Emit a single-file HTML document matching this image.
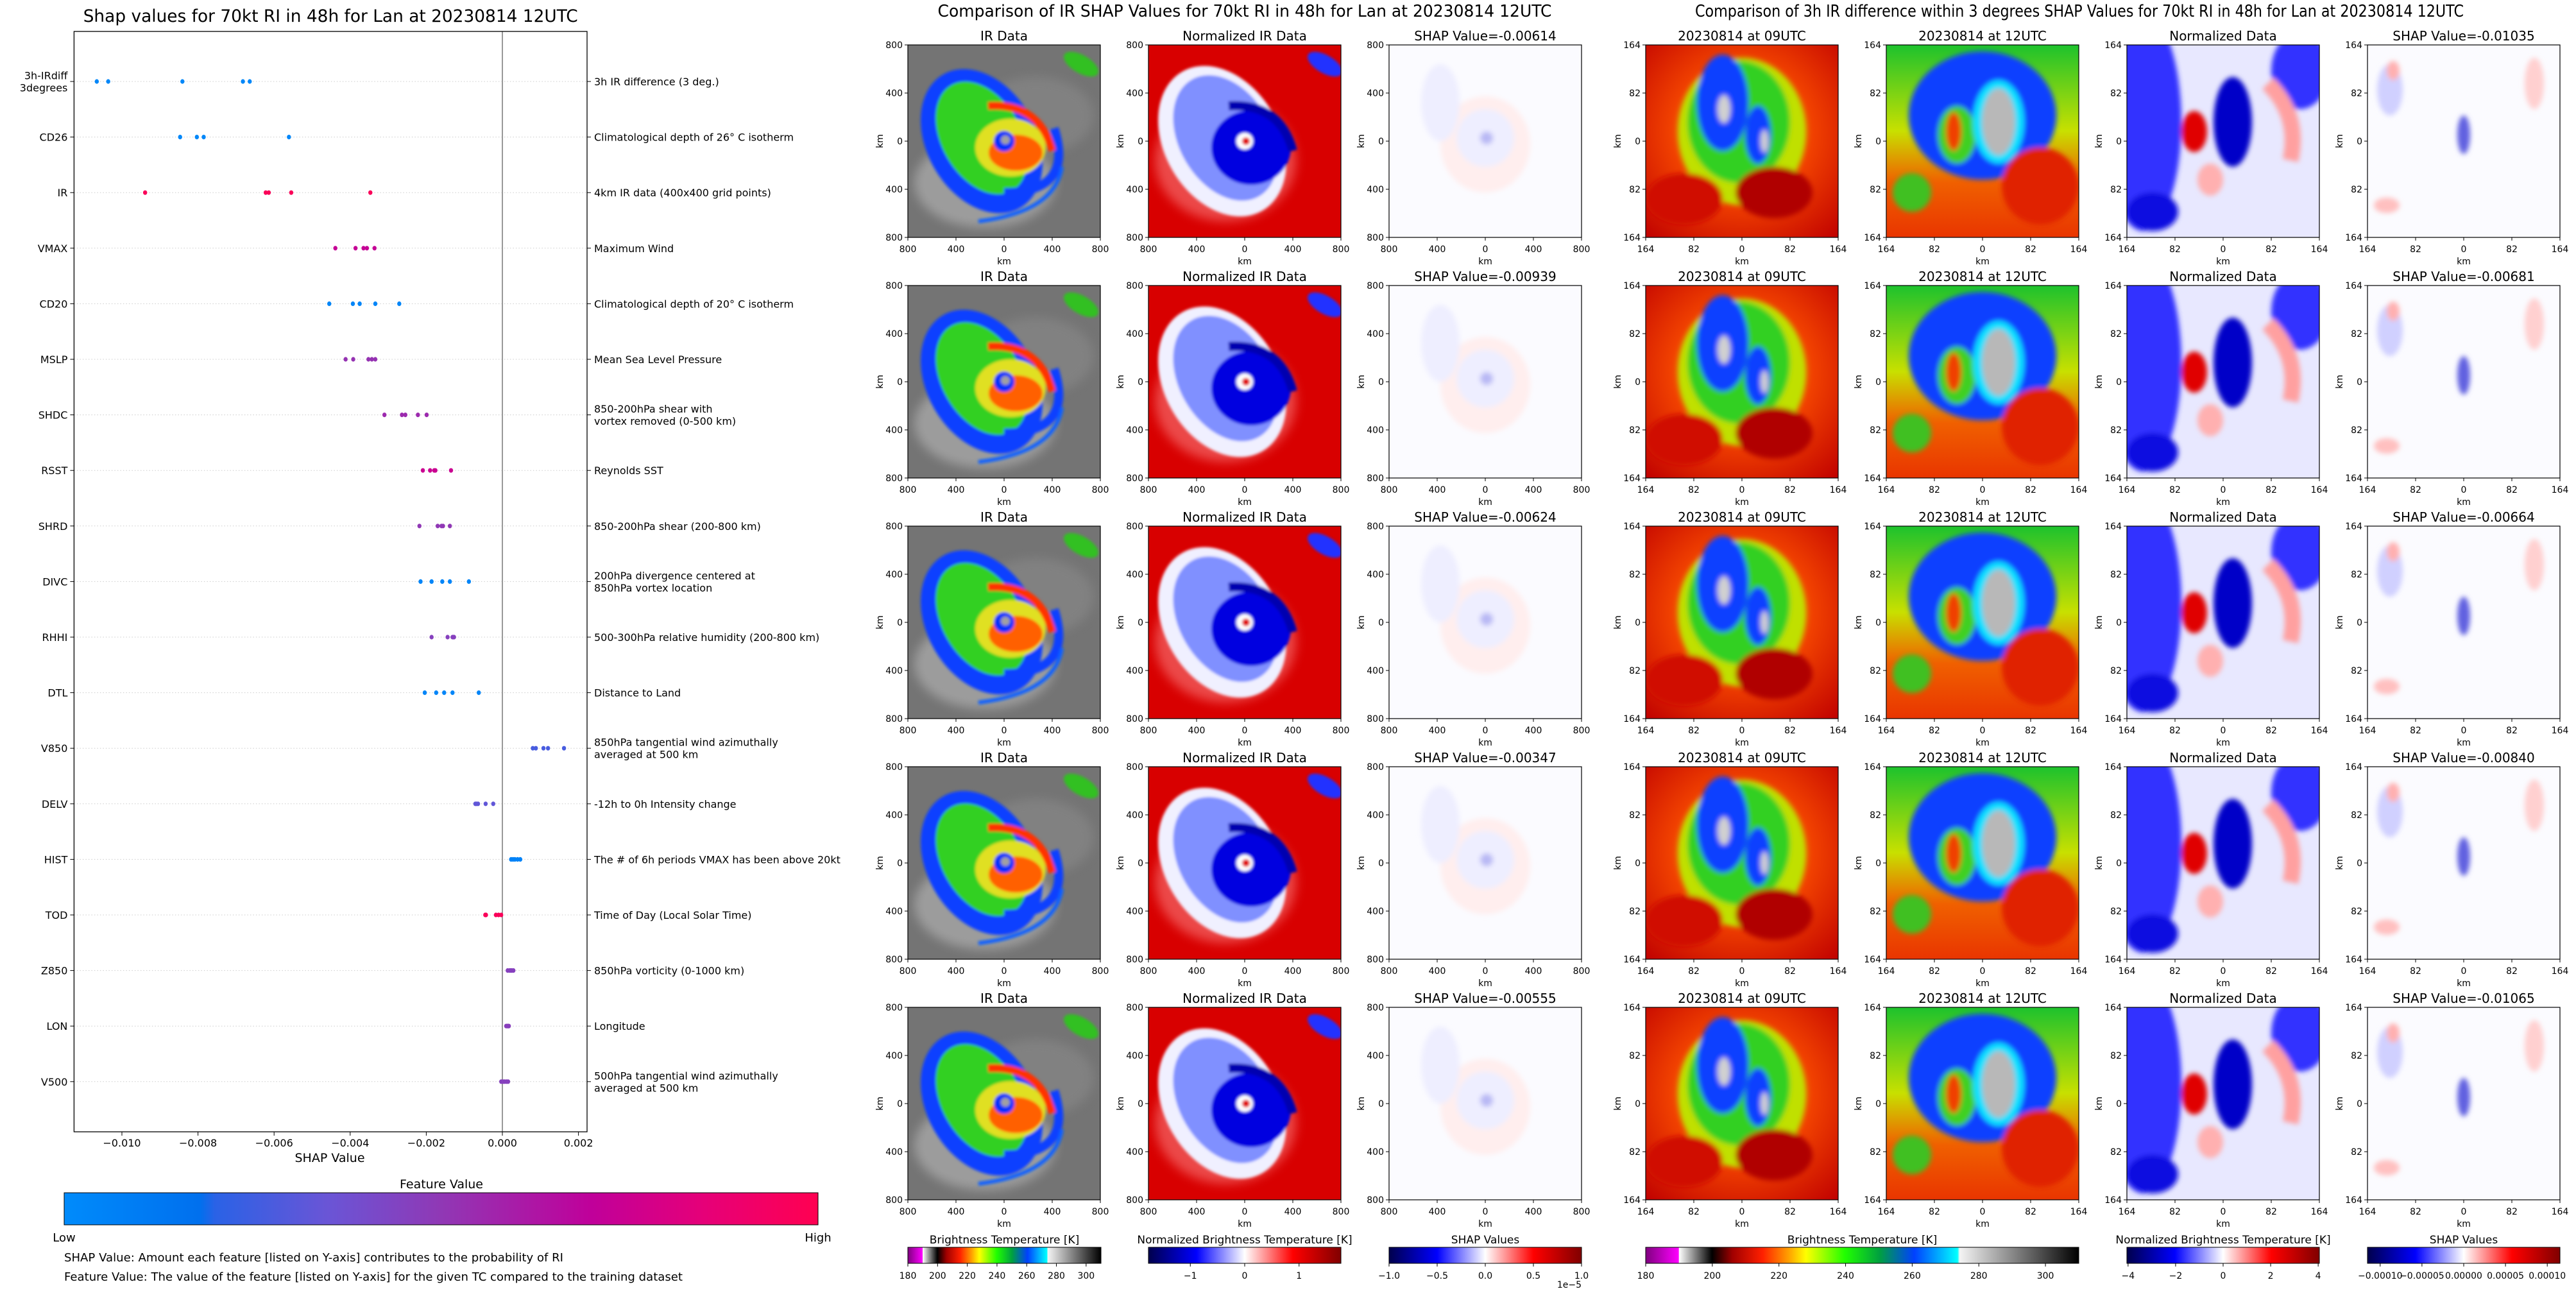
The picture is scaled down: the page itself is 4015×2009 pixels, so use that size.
<!DOCTYPE html>
<html><head><meta charset="utf-8">
<style>
html,body{margin:0;padding:0;background:#fff;}
svg{display:block;font-family:"DejaVu Sans","Liberation Sans",sans-serif;}
</style></head>
<body>
<svg id="root" width="4015" height="2009" viewBox="0 0 4015 2009" xmlns="http://www.w3.org/2000/svg">
<defs>
  <filter id="blur4" x="-20%" y="-20%" width="140%" height="140%"><feGaussianBlur stdDeviation="4"/></filter>
  <filter id="blur8" x="-20%" y="-20%" width="140%" height="140%"><feGaussianBlur stdDeviation="8"/></filter>
  <filter id="blur2" x="-20%" y="-20%" width="140%" height="140%"><feGaussianBlur stdDeviation="2"/></filter>
  <clipPath id="pclip"><rect x="0" y="0" width="300" height="300"/></clipPath>
  <linearGradient id="featGrad" x1="0" x2="1" y1="0" y2="0">
    <stop offset="0" stop-color="#008bfb"/><stop offset="0.18" stop-color="#0070ee"/>
    <stop offset="0.2" stop-color="#2a62e6"/><stop offset="0.35" stop-color="#6a55d6"/>
    <stop offset="0.5" stop-color="#9038b5"/><stop offset="0.7" stop-color="#c0009a"/>
    <stop offset="0.85" stop-color="#e60078"/><stop offset="1" stop-color="#ff0051"/>
  </linearGradient>
  <linearGradient id="btGrad" x1="0" x2="1" y1="0" y2="0">
    <stop offset="0" stop-color="#800080"/><stop offset="0.076" stop-color="#ff00ff"/>
    <stop offset="0.077" stop-color="#ffffff"/><stop offset="0.153" stop-color="#000000"/>
    <stop offset="0.2" stop-color="#a00000"/><stop offset="0.27" stop-color="#ff2000"/>
    <stop offset="0.33" stop-color="#ffa000"/><stop offset="0.37" stop-color="#ffff00"/>
    <stop offset="0.46" stop-color="#20ff00"/><stop offset="0.54" stop-color="#00a040"/>
    <stop offset="0.62" stop-color="#0040ff"/><stop offset="0.72" stop-color="#00ffff"/>
    <stop offset="0.725" stop-color="#f4f4f4"/><stop offset="1" stop-color="#000000"/>
  </linearGradient>
  <linearGradient id="seisGrad" x1="0" x2="1" y1="0" y2="0">
    <stop offset="0" stop-color="#00004c"/><stop offset="0.25" stop-color="#0000ff"/>
    <stop offset="0.5" stop-color="#ffffff"/><stop offset="0.75" stop-color="#ff0000"/>
    <stop offset="1" stop-color="#800000"/>
  </linearGradient>
  <linearGradient id="g12" x1="0" x2="0" y1="0" y2="1">
    <stop offset="0" stop-color="#10c030"/><stop offset="0.45" stop-color="#c8e000"/>
    <stop offset="0.7" stop-color="#f06000"/><stop offset="1" stop-color="#e83000"/>
  </linearGradient>
  <radialGradient id="g09" cx="0.5" cy="0.45" r="0.7">
    <stop offset="0" stop-color="#ffd000"/><stop offset="0.5" stop-color="#f04000"/>
    <stop offset="1" stop-color="#c00000"/>
  </radialGradient>
</defs>
<g id="left"></g>
<g id="right"></g>
</svg>
<script>
// ===== Left chart data =====
const features = ["3h-IRdiff\n3degrees","CD26","IR","VMAX","CD20","MSLP","SHDC","RSST","SHRD","DIVC","RHHI","DTL","V850","DELV","HIST","TOD","Z850","LON","V500"];
const descriptions = ["3h IR difference (3 deg.)","Climatological depth of 26° C isotherm","4km IR data (400x400 grid points)","Maximum Wind","Climatological depth of 20° C isotherm","Mean Sea Level Pressure","850-200hPa shear with\nvortex removed (0-500 km)","Reynolds SST","850-200hPa shear (200-800 km)","200hPa divergence centered at\n850hPa vortex location","500-300hPa relative humidity (200-800 km)","Distance to Land","850hPa tangential wind azimuthally\naveraged at 500 km","-12h to 0h Intensity change","The # of 6h periods VMAX has been above 20kt","Time of Day (Local Solar Time)","850hPa vorticity (0-1000 km)","Longitude","500hPa tangential wind azimuthally\naveraged at 500 km"];
const shapValues = [
  [-0.01066,-0.01036,-0.00841,-0.00682,-0.00664],
  [-0.00847,-0.00803,-0.00785,-0.00561],
  [-0.00939,-0.00622,-0.00614,-0.00555,-0.00347],
  [-0.00439,-0.00386,-0.00365,-0.00356,-0.00336],
  [-0.00455,-0.00393,-0.00375,-0.00334,-0.00271],
  [-0.00412,-0.00392,-0.00352,-0.00343,-0.00334],
  [-0.00310,-0.00264,-0.00255,-0.00222,-0.00199],
  [-0.00209,-0.00190,-0.00179,-0.00176,-0.00135],
  [-0.00218,-0.00170,-0.00160,-0.00156,-0.00138],
  [-0.00215,-0.00186,-0.00158,-0.00138,-0.00088],
  [-0.00186,-0.00144,-0.00131,-0.00128,-0.00127],
  [-0.00204,-0.00174,-0.00153,-0.00131,-0.00062],
  [0.00080,0.00088,0.00108,0.00120,0.00162],
  [-0.00071,-0.00068,-0.00064,-0.00044,-0.00024],
  [0.00023,0.00028,0.00033,0.00040,0.00047],
  [-0.00045,-0.00043,-0.00017,-0.00010,-0.00003],
  [0.00014,0.00019,0.00022,0.00025,0.00029],
  [0.00010,0.00012,0.00014,0.00016,0.00017],
  [-0.00003,0.00002,0.00006,0.00011,0.00015]
];
const featureValues = [0.03,0.03,0.97,0.72,0.04,0.52,0.55,0.74,0.5,0.04,0.46,0.04,0.27,0.33,0.06,0.97,0.46,0.47,0.46];
const xTicks = [-0.010,-0.008,-0.006,-0.004,-0.002,0.000,0.002];
const xTickLabels = ["\u22120.010","\u22120.008","\u22120.006","\u22120.004","\u22120.002","0.000","0.002"];

const NS = "http://www.w3.org/2000/svg";
function mk(tag, attrs, parent, text){
  const e = document.createElementNS(NS, tag);
  for (const k in attrs) e.setAttribute(k, attrs[k]);
  if (text !== undefined) e.textContent = text;
  if (parent) parent.appendChild(e);
  return e;
}
const L = document.getElementById('left');
const AX_L = 115.4, AX_R = 915, AX_T = 49, AX_B = 1764;
function xScale(v){ return 783 + v * 59300; }
function yScale(i){ return 127 + i * 86.6; }
function featColor(t){
  const stops=[[0,[0,139,251]],[0.18,[0,112,238]],[0.2,[42,98,230]],[0.35,[106,85,214]],[0.5,[144,56,181]],[0.7,[192,0,154]],[0.85,[230,0,120]],[1,[255,0,81]]];
  for(let i=1;i<stops.length;i++){ if(t<=stops[i][0]){ const a=stops[i-1],b=stops[i]; const f=(t-a[0])/(b[0]-a[0]); const c=a[1].map((v,j)=>Math.round(v+(b[1][j]-v)*f)); return `rgb(${c[0]},${c[1]},${c[2]})`; } }
  return 'rgb(255,0,81)';
}
let t = mk('text',{x:(AX_L+AX_R)/2,y:34,'text-anchor':'middle','font-size':27,textLength:771,lengthAdjust:'spacingAndGlyphs'},L,"Shap values for 70kt RI in 48h for Lan at 20230814 12UTC");


features.forEach((f,i)=>{
  const y = yScale(i);
  const g = mk('line',{x1:AX_L,x2:AX_R,y1:y,y2:y,stroke:'#cccccc','stroke-width':1,'stroke-dasharray':'1.5,3'},L);
  
  
  mk('line',{x1:AX_L-6,x2:AX_L,y1:y,y2:y,stroke:'#000','stroke-width':1},L);
  mk('line',{x1:AX_R,x2:AX_R+6,y1:y,y2:y,stroke:'#000','stroke-width':1},L);
  const lines = f.split("\n");
  const lbl = mk('text',{x:AX_L-10,'text-anchor':'end','font-size':16,fill:'#000'},L);
  
  
  lines.forEach((ln,k)=>{ mk('tspan',{x:AX_L-10,y:y+6+(k-(lines.length-1)/2)*19},lbl,ln); });
  const dl = descriptions[i].split("\n");
  const dsc = mk('text',{x:AX_R+11,'text-anchor':'start','font-size':16,fill:'#000'},L);
  
  
  dl.forEach((ln,k)=>{ mk('tspan',{x:AX_R+11,y:y+6+(k-(dl.length-1)/2)*19},dsc,ln); });
});
let z = mk('line',{x1:xScale(0),x2:xScale(0),y1:AX_T,y2:AX_B,stroke:'#999','stroke-width':2},L);


shapValues.forEach((vals,i)=>{
  vals.forEach(v=>{
    const c = mk('ellipse',{cx:xScale(v),cy:yScale(i),rx:3.2,ry:3.6,fill:featColor(featureValues[i])},L);
    
    
  });
});
let fr = mk('rect',{x:AX_L,y:AX_T,width:AX_R-AX_L,height:AX_B-AX_T,fill:'none',stroke:'#000','stroke-width':1.3},L);


xTicks.forEach((v,k)=>{
  mk('line',{x1:xScale(v),x2:xScale(v),y1:AX_B,y2:AX_B+6,stroke:'#000','stroke-width':1},L);
  const tl = mk('text',{x:xScale(v),y:AX_B+23,'text-anchor':'middle','font-size':16},L,xTickLabels[k]);
  
  
});
t = mk('text',{x:514,y:1811,'text-anchor':'middle','font-size':19},L,"SHAP Value");


t = mk('text',{x:688,y:1852,'text-anchor':'middle','font-size':19},L,"Feature Value");


t = mk('rect',{x:100,y:1859,width:1175,height:50,fill:'url(#featGrad)',stroke:'#000','stroke-width':1},L);


t = mk('text',{x:100,y:1935,'text-anchor':'middle','font-size':18},L,"Low");


t = mk('text',{x:1275,y:1935,'text-anchor':'middle','font-size':18},L,"High");


t = mk('text',{x:100,y:1966,'font-size':18,textLength:778,lengthAdjust:'spacingAndGlyphs'},L,"SHAP Value: Amount each feature [listed on Y-axis] contributes to the probability of RI");


t = mk('text',{x:100,y:1996,'font-size':18,textLength:964,lengthAdjust:'spacingAndGlyphs'},L,"Feature Value: The value of the feature [listed on Y-axis] for the given TC compared to the training dataset");



// ===== Right side panels =====
const R = document.getElementById('right');
const group1X = [1415,1790,2165];
const group2X = [2565,2940,3315,3690];
const rowTops = [70,445,820,1195,1570];
const shap1 = ["-0.00614","-0.00939","-0.00624","-0.00347","-0.00555"];
const shap2 = ["-0.01035","-0.00681","-0.00664","-0.00840","-0.01065"];

t = mk('text',{x:1940,y:26,'text-anchor':'middle','font-size':26,textLength:957,lengthAdjust:'spacingAndGlyphs'},R,"Comparison of IR SHAP Values for 70kt RI in 48h for Lan at 20230814 12UTC");


t = mk('text',{x:3241,y:26,'text-anchor':'middle','font-size':26,textLength:1198,lengthAdjust:'spacingAndGlyphs'},R,"Comparison of 3h IR difference within 3 degrees SHAP Values for 70kt RI in 48h for Lan at 20230814 12UTC");



function drawImage(g, kind){
  const c = mk('g',{'clip-path':'url(#pclip)'},g);
  const b = document.createElementNS(NS,'g');
  b.setAttribute('filter','url(#blur4)');
  if(kind==='ir'){
    mk('rect',{x:-10,y:-10,width:320,height:320,fill:'#747474'},c);
    mk('ellipse',{cx:120,cy:215,rx:110,ry:70,fill:'#b8b8b8',opacity:0.6,filter:'url(#blur8)'},c);
    mk('ellipse',{cx:200,cy:110,rx:90,ry:60,fill:'#8a8a8a',opacity:0.6,filter:'url(#blur8)'},c);
    const b2 = mk('g',{filter:'url(#blur2)'},c);
    mk('ellipse',{cx:115,cy:150,rx:85,ry:120,transform:'rotate(-30 115 150)',fill:'#1040ff'},b2);
    mk('ellipse',{cx:115,cy:145,rx:62,ry:95,transform:'rotate(-30 115 145)',fill:'#30d020'},b2);
    mk('path',{d:'M150,230 Q260,230 228,130',stroke:'#1040ff','stroke-width':14,fill:'none'},b2);
    mk('path',{d:'M110,275 Q230,260 240,190',stroke:'#1060ff','stroke-width':6,fill:'none'},b2);
    mk('ellipse',{cx:160,cy:160,rx:55,ry:45,fill:'#e0e020'},b2);
    mk('ellipse',{cx:168,cy:168,rx:42,ry:28,fill:'#ff6000'},b2);
    mk('path',{d:'M125,95 Q205,90 225,165',stroke:'#ff3000','stroke-width':12,fill:'none'},b2);
    mk('circle',{cx:150,cy:150,r:16,fill:'#0030ff'},b2);
    mk('circle',{cx:152,cy:148,r:7,fill:'#a0a0a0'},b2);
    mk('ellipse',{cx:270,cy:30,rx:30,ry:14,transform:'rotate(30 270 30)',fill:'#30c020'},b2);
  } else if(kind==='nir'){
    mk('rect',{x:-10,y:-10,width:320,height:320,fill:'#d80000'},c);
    mk('ellipse',{cx:120,cy:180,rx:110,ry:95,fill:'#ff9090',opacity:0.5,filter:'url(#blur8)'},c);
    const b2 = mk('g',{filter:'url(#blur2)'},c);
    mk('ellipse',{cx:115,cy:150,rx:90,ry:125,transform:'rotate(-30 115 150)',fill:'#f0f0ff'},b2);
    mk('ellipse',{cx:120,cy:145,rx:72,ry:105,transform:'rotate(-30 120 145)',fill:'#8090ff'},b2);
    mk('ellipse',{cx:160,cy:160,rx:62,ry:58,fill:'#0000e0'},b2);
    mk('path',{d:'M125,95 Q205,90 225,165',stroke:'#0000b0','stroke-width':14,fill:'none'},b2);
    mk('circle',{cx:150,cy:150,r:13,fill:'#ffffff'},b2);
    mk('circle',{cx:152,cy:150,r:6,fill:'#e00000'},b2);
    mk('ellipse',{cx:275,cy:30,rx:30,ry:14,transform:'rotate(30 275 30)',fill:'#2030ff'},b2);
  } else if(kind==='s1'){
    mk('rect',{x:-10,y:-10,width:320,height:320,fill:'#fbfbff'},c);
    c.appendChild(b);
    mk('ellipse',{cx:150,cy:155,rx:70,ry:75,fill:'#ffeeee'},b);
    mk('ellipse',{cx:150,cy:145,rx:45,ry:45,fill:'#eeeeff'},b);
    mk('ellipse',{cx:80,cy:90,rx:30,ry:60,fill:'#eeeeff'},b);
    mk('circle',{cx:152,cy:145,r:10,fill:'#b8b8f4'},b);
  } else if(kind==='t09'){
    mk('rect',{x:-10,y:-10,width:320,height:320,fill:'url(#g09)'},c);
    c.appendChild(b);
    mk('ellipse',{cx:150,cy:135,rx:100,ry:115,fill:'#c0e000'},b);
    mk('ellipse',{cx:145,cy:120,rx:80,ry:95,fill:'#30d020'},b);
    mk('ellipse',{cx:120,cy:90,rx:40,ry:75,fill:'#1040ff'},b);
    mk('ellipse',{cx:175,cy:140,rx:20,ry:45,fill:'#1040ff'},b);
    mk('ellipse',{cx:122,cy:100,rx:10,ry:22,fill:'#d0d0d0'},b);
    mk('ellipse',{cx:185,cy:150,rx:6,ry:18,fill:'#d0d0d0'},b);
    mk('ellipse',{cx:60,cy:240,rx:60,ry:40,fill:'#d01000'},b);
    mk('ellipse',{cx:200,cy:230,rx:60,ry:40,fill:'#b00000'},b);
  } else if(kind==='t12'){
    mk('rect',{x:-10,y:-10,width:320,height:320,fill:'url(#g12)'},c);
    c.appendChild(b);
    mk('ellipse',{cx:150,cy:110,rx:115,ry:100,fill:'#1040ff'},b);
    mk('ellipse',{cx:110,cy:140,rx:30,ry:45,fill:'#40d020'},b);
    mk('ellipse',{cx:175,cy:120,rx:40,ry:65,fill:'#10e0ff'},b);
    mk('ellipse',{cx:175,cy:120,rx:26,ry:52,fill:'#b8b8b8'},b);
    mk('ellipse',{cx:105,cy:135,rx:12,ry:30,fill:'#f04000'},b);
    mk('ellipse',{cx:240,cy:220,rx:60,ry:60,fill:'#e02000'},b);
    mk('ellipse',{cx:40,cy:230,rx:30,ry:30,fill:'#40c020'},b);
  } else if(kind==='n2'){
    mk('rect',{x:-10,y:-10,width:320,height:320,fill:'#e8e8ff'},c);
    c.appendChild(b);
    mk('ellipse',{cx:25,cy:120,rx:60,ry:170,fill:'#3030ff'},b);
    mk('ellipse',{cx:40,cy:260,rx:40,ry:30,fill:'#1010e0'},b);
    mk('ellipse',{cx:270,cy:40,rx:45,ry:60,fill:'#3030ff'},b);
    mk('ellipse',{cx:165,cy:120,rx:30,ry:70,fill:'#0000c8'},b);
    mk('ellipse',{cx:105,cy:135,rx:20,ry:32,fill:'#e00000'},b);
    mk('path',{d:'M220,60 Q270,110 255,180',stroke:'#ffa0a0','stroke-width':25,fill:'none'},b);
    mk('ellipse',{cx:130,cy:210,rx:20,ry:25,fill:'#ffb0b0'},b);
  } else {
    mk('rect',{x:-10,y:-10,width:320,height:320,fill:'#fbfbff'},c);
    c.appendChild(b);
    mk('ellipse',{cx:35,cy:70,rx:20,ry:40,fill:'#d0d0ff'},b);
    mk('ellipse',{cx:40,cy:40,rx:10,ry:15,fill:'#ffb0b0'},b);
    mk('ellipse',{cx:260,cy:60,rx:15,ry:40,fill:'#ffd0d0'},b);
    mk('ellipse',{cx:150,cy:140,rx:10,ry:30,fill:'#6060e0'},b);
    mk('ellipse',{cx:30,cy:250,rx:20,ry:12,fill:'#ffc0c0'},b);
  }
}

function drawPanel(x, y, title, kind, ylabels, name){
  const g = mk('g',{transform:`translate(${x},${y})`},R);
  
  
  drawImage(g, kind);
  mk('rect',{x:0,y:0,width:300,height:300,fill:'none',stroke:'#000','stroke-width':1.2},g);
  const tt = mk('text',{x:150,y:-7,'text-anchor':'middle','font-size':20},g,title);
  
  
  ylabels.forEach((lab,k)=>{
    const p = k*75;
    mk('line',{x1:-5,x2:0,y1:p,y2:p,stroke:'#000'},g);
    mk('line',{x1:p,x2:p,y1:300,y2:305,stroke:'#000'},g);
    mk('text',{x:-8,y:p+5,'text-anchor':'end','font-size':14},g,lab);
    mk('text',{x:p,y:323,'text-anchor':'middle','font-size':14},g,lab);
  });
  mk('text',{x:150,y:342,'text-anchor':'middle','font-size':14},g,"km");
  mk('text',{x:0,y:0,'text-anchor':'middle','font-size':14,transform:'translate(-39,150) rotate(-90)'},g,"km");
}
const lab1 = ["800","400","0","400","800"];
const lab2 = ["164","82","0","82","164"];
rowTops.forEach((y,r)=>{
  drawPanel(group1X[0], y, "IR Data", 'ir', lab1, 'ir-data-panel');
  drawPanel(group1X[1], y, "Normalized IR Data", 'nir', lab1, 'normalized-ir-panel');
  drawPanel(group1X[2], y, "SHAP Value="+shap1[r], 's1', lab1, 'ir-shap-panel');
  drawPanel(group2X[0], y, "20230814 at 09UTC", 't09', lab2, 'ir-09utc-panel');
  drawPanel(group2X[1], y, "20230814 at 12UTC", 't12', lab2, 'ir-12utc-panel');
  drawPanel(group2X[2], y, "Normalized Data", 'n2', lab2, 'normalized-diff-panel');
  drawPanel(group2X[3], y, "SHAP Value="+shap2[r], 's2', lab2, 'diff-shap-panel');
});

const cbY = 1944, cbH = 25;
function colorbar(x, w, grad, title, ticks, labels, lo, hi, name){
  const g = mk('g',{},R);
  
  
  mk('text',{x:x+w/2,y:1938,'text-anchor':'middle','font-size':17},g,title);
  mk('rect',{x:x,y:cbY,width:w,height:cbH,fill:`url(#${grad})`,stroke:'#000','stroke-width':1},g);
  ticks.forEach((v,k)=>{
    const px = x + (v-lo)/(hi-lo)*w;
    mk('line',{x1:px,x2:px,y1:cbY+cbH,y2:cbY+cbH+5,stroke:'#000'},g);
    mk('text',{x:px,y:1993,'text-anchor':'middle','font-size':14},g,labels[k]);
  });
}
const bt1Ticks=[180,200,220,240,260,280,300];
const bt1Labels=["180","200","220","240","260","280","300"];
colorbar(1415,301,'btGrad',"Brightness Temperature [K]",bt1Ticks,bt1Labels,180,310,'bt-colorbar-1');
colorbar(1790,300,'seisGrad',"Normalized Brightness Temperature [K]",[-1,0,1],["\u22121","0","1"],-1.77,1.77,'norm-colorbar-1');
colorbar(2165,300,'seisGrad',"SHAP Values",[-1,-0.5,0,0.5,1],["\u22121.0","\u22120.5","0.0","0.5","1.0"],-1,1,'shap-colorbar-1');
t = mk('text',{x:2465,y:2007,'text-anchor':'end','font-size':14},R,"1e\u22125");


colorbar(2565,675,'btGrad',"Brightness Temperature [K]",bt1Ticks,bt1Labels,180,310,'bt-colorbar-2');
colorbar(3315,300,'seisGrad',"Normalized Brightness Temperature [K]",[-4,-2,0,2,4],["\u22124","\u22122","0","2","4"],-4.05,4.05,'norm-colorbar-2');
colorbar(3690,300,'seisGrad',"SHAP Values",[-0.0001,-0.00005,0,0.00005,0.0001],["\u22120.00010","\u22120.00005","0.00000","0.00005","0.00010"],-0.0001152,0.0001152,'shap-colorbar-2');
</script>
</body></html>
